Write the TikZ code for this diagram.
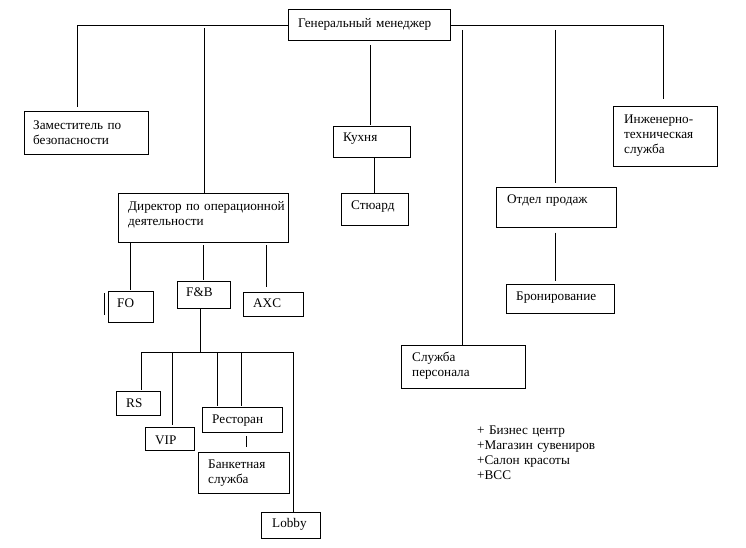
\documentclass[tikz,border=0pt]{standalone}
\usepackage{fontspec}
\setmainfont{Liberation Serif}
\usetikzlibrary{fit}
\begin{document}
\begin{tikzpicture}[x=1pt,y=-1pt,
  box/.style={draw, line width=1pt, inner sep=0pt, rectangle},
  txt/.style={anchor=base west, inner sep=0pt, align=left, text width=170pt, font=\fontsize{13.2}{15}\selectfont},
  conn/.style={line width=0.9pt}]
\useasboundingbox (0,0) rectangle (746,548);
% boxes
\node[box, fit={(288,10) (450,41)}] (gm) {};
\node[box, fit={(24,112) (148,155)}] (zam) {};
\node[box, fit={(333,127) (410,158)}] (kux) {};
\node[box, fit={(341,193) (408,225)}] (st) {};
\node[box, fit={(613,107) (717,167)}] (eng) {};
\node[box, fit={(496,187) (616,227)}] (op) {};
\node[box, fit={(506,284) (614,313)}] (br) {};
\node[box, fit={(401,345) (525,388)}] (sp) {};
\node[box, fit={(118,193) (288,242)}] (dir) {};
\node[box, fit={(108,291) (153,322)}] (fo) {};
\node[box, fit={(177,281) (230,308)}] (fb) {};
\node[box, fit={(243,292) (303,316)}] (axc) {};
\node[box, fit={(116,391) (160,415)}] (rs) {};
\node[box, fit={(145,427) (194,450)}] (vip) {};
\node[box, fit={(202,407) (282,432)}] (rest) {};
\node[box, fit={(198,452) (289,493)}] (bank) {};
\node[box, fit={(261,512) (320,538)}] (lobby) {};
% texts
\node[txt] (gmT) at (298,28) {Генеральный менеджер};
\node[txt] (zamT) at (33,130) {Заместитель по\\безопасности};
\node[txt] (kuxT) at (343,142) {Кухня};
\node[txt] (stT) at (351,209) {Стюард};
\node[txt] (engT) at (624,124) {Инженерно-\\техническая\\служба};
\node[txt] (opT) at (507,203) {Отдел продаж};
\node[txt] (brT) at (516,300) {Бронирование};
\node[txt] (spT) at (412,361) {Служба\\персонала};
\node[txt] (dirT) at (128,210) {Директор по операционной\\деятельности};
\node[txt] (foT) at (117,307) {FO};
\node[txt] (fbT) at (186,296) {F\&B};
\node[txt] (axcT) at (253,307) {AXC};
\node[txt] (rsT) at (126,407) {RS};
\node[txt] (vipT) at (155,444) {VIP};
\node[txt] (restT) at (212,423) {Ресторан};
\node[txt] (bankT) at (208,468) {Банкетная\\служба};
\node[txt] (lobbyT) at (272,527) {Lobby};
\node[txt] (listT) at (477,434) {+ Бизнес центр\\+Магазин сувениров\\+Салон красоты\\+ВСС};
% bus coordinates
\coordinate (busL) at (77,25.5);
\coordinate (busR) at (663,25.5);
\coordinate (jDir) at (204,28);
\coordinate (jKux) at (370,45);
\coordinate (jSp) at (462,30);
\coordinate (jOp) at (555,30);
\coordinate (jFo) at (130,243);
\coordinate (jFb) at (203,245);
\coordinate (jAxc) at (266,245);
\coordinate (bus2L) at (141,352);
\coordinate (bus2R) at (293,352);
\coordinate (jVip) at (172,352);
\coordinate (jR1) at (217,352);
\coordinate (jR2) at (241,352);
\coordinate (jBank) at (246,436);
\coordinate (tickA) at (104,293);
\coordinate (tickB) at (104,315);
% connectors
\draw[conn, shorten >=4pt] (gm.west) -- (busL) -- (busL |- zam.north);
\draw[conn, shorten >=7pt] (gm.east) -- (busR) -- (busR |- eng.north);
\draw[conn] (jDir) -- (jDir |- dir.north);
\draw[conn, shorten >=1pt] (jKux) -- (jKux |- kux.north);
\draw[conn] (jSp) -- (jSp |- sp.north);
\draw[conn, shorten >=4pt] (jOp) -- (jOp |- op.north);
\draw[conn, shorten <=5pt, shorten >=3pt] (jOp |- op.south) -- (jOp |- br.north);
\draw[conn] (kux.south -| 374,0) -- (st.north -| 374,0);
\draw[conn, shorten >=1pt] (jFo) -- (jFo |- fo.north);
\draw[conn, shorten >=1pt] (jFb) -- (jFb |- fb.north);
\draw[conn, shorten >=5pt] (jAxc) -- (jAxc |- axc.north);
\draw[conn] (fb.south -| 200,0) -- (200,352);
\draw[conn] (bus2L) -- (bus2R);
\draw[conn, shorten >=1pt] (bus2L) -- (bus2L |- rs.north);
\draw[conn, shorten >=2pt] (jVip) -- (jVip |- vip.north);
\draw[conn, shorten >=1pt] (jR1) -- (jR1 |- rest.north);
\draw[conn, shorten >=1pt] (jR2) -- (jR2 |- rest.north);
\draw[conn] (bus2R) -- (bus2R |- lobby.north);
\draw[conn, shorten >=5pt] (jBank) -- (jBank |- bank.north);
\draw[conn] (tickA) -- (tickB);
\end{tikzpicture}
\end{document}
